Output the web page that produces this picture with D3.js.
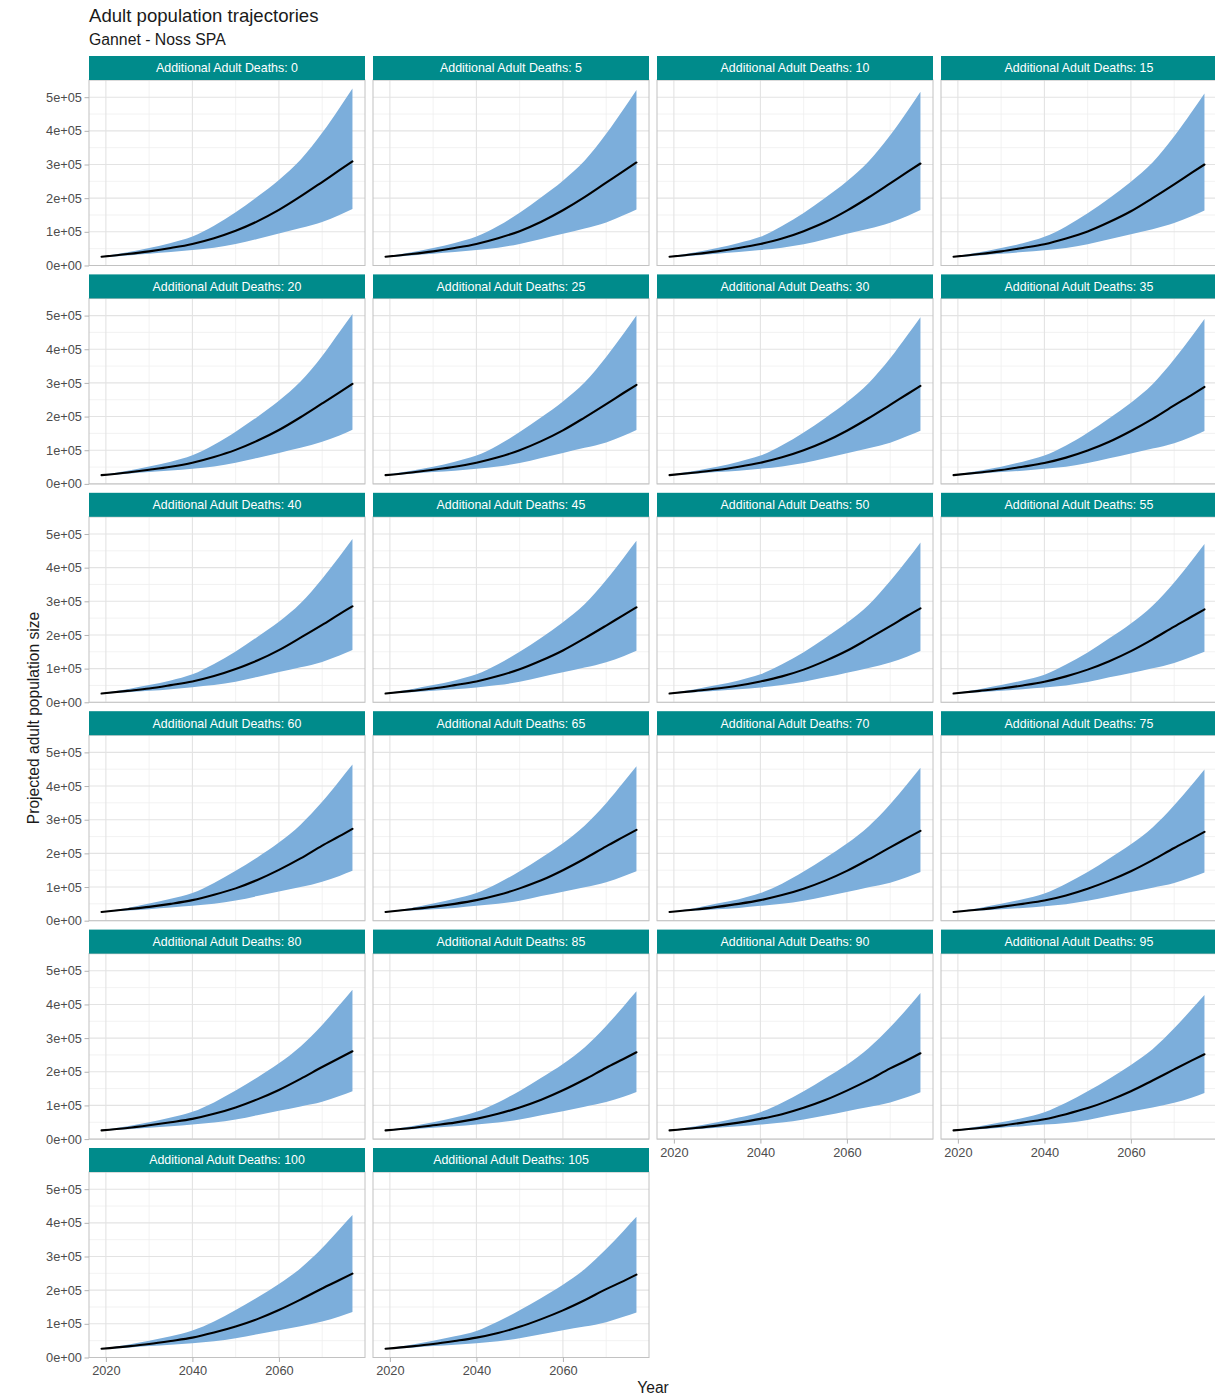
<!DOCTYPE html>
<html>
<head>
<meta charset="utf-8">
<script src="https://cdn.jsdelivr.net/npm/d3@7"></script>
<style>
  body { margin: 0; background: #ffffff; }
  svg text { font-family: "Liberation Sans", Arial, sans-serif; }
</style>
</head>
<body>
<svg id="chart" width="1215" height="1396"></svg>
<script>
// Additional adult deaths per year, one facet each
const deaths = [0, 5, 10, 15, 20, 25, 30, 35, 40, 45, 50, 55, 60, 65, 70, 75, 80, 85, 90, 95, 100, 105];

// Projection years sampled for the trajectories
const years = [2019, 2025, 2030, 2035, 2040, 2045, 2050, 2055, 2060, 2065, 2070, 2074, 2077];

// Median projected adult population (thousands), one row per facet
const medianK = [
  [26, 34, 42, 52, 64, 81, 103, 131, 165, 205, 248, 283, 309],
  [26, 34, 42, 52, 64, 81, 102, 130, 164, 203, 246, 280, 306],
  [26, 34, 42, 52, 64, 80, 102, 129, 163, 202, 244, 278, 303],
  [26, 34, 42, 52, 63, 80, 101, 129, 161, 200, 241, 275, 300],
  [26, 34, 42, 51, 63, 80, 101, 128, 160, 198, 239, 272, 297],
  [26, 34, 42, 51, 63, 79, 100, 127, 159, 197, 237, 270, 294],
  [26, 34, 41, 51, 63, 79, 100, 126, 158, 195, 235, 267, 291],
  [26, 34, 41, 51, 62, 78, 99, 125, 157, 193, 233, 264, 288],
  [26, 34, 41, 51, 62, 78, 99, 124, 155, 192, 230, 262, 285],
  [26, 34, 41, 51, 62, 78, 98, 124, 154, 190, 228, 259, 282],
  [26, 34, 41, 50, 62, 77, 97, 123, 153, 189, 226, 257, 279],
  [26, 34, 41, 50, 61, 77, 97, 122, 152, 187, 225, 254, 276],
  [26, 34, 41, 50, 61, 77, 96, 121, 151, 185, 223, 251, 273],
  [26, 34, 41, 50, 61, 76, 96, 120, 150, 184, 221, 249, 270],
  [26, 33, 41, 50, 61, 76, 95, 119, 148, 182, 218, 246, 267],
  [26, 33, 41, 50, 60, 75, 95, 119, 147, 180, 216, 243, 264],
  [26, 33, 41, 50, 60, 75, 94, 118, 146, 179, 214, 241, 261],
  [26, 33, 41, 49, 60, 75, 94, 117, 145, 177, 212, 238, 258],
  [26, 33, 40, 49, 60, 74, 93, 116, 144, 175, 210, 235, 255],
  [26, 33, 40, 49, 59, 74, 92, 115, 142, 174, 207, 233, 252],
  [26, 33, 40, 49, 59, 74, 92, 114, 141, 172, 205, 230, 249],
  [26, 33, 40, 49, 59, 73, 91, 114, 140, 170, 203, 227, 246]
];

// Lower bound of the projection interval (thousands)
const lowerK = [
  [25, 30, 35, 40, 46, 53, 64, 79, 95, 111, 129, 150, 168],
  [25, 30, 35, 40, 46, 53, 64, 79, 94, 110, 128, 149, 166],
  [25, 30, 35, 40, 46, 53, 63, 78, 94, 109, 127, 147, 165],
  [25, 30, 35, 40, 45, 52, 63, 78, 93, 108, 126, 146, 163],
  [25, 30, 35, 40, 45, 52, 63, 77, 92, 107, 125, 144, 161],
  [25, 30, 35, 39, 45, 52, 62, 77, 92, 107, 123, 143, 160],
  [25, 30, 35, 39, 45, 52, 62, 76, 91, 106, 122, 142, 158],
  [25, 30, 35, 39, 45, 51, 62, 76, 90, 105, 121, 140, 157],
  [25, 30, 34, 39, 45, 51, 61, 75, 90, 104, 120, 139, 155],
  [25, 30, 34, 39, 44, 51, 61, 75, 89, 103, 119, 137, 153],
  [25, 30, 34, 39, 44, 51, 61, 74, 88, 102, 118, 136, 152],
  [25, 30, 34, 39, 44, 50, 60, 74, 87, 101, 117, 135, 150],
  [25, 30, 34, 39, 44, 50, 60, 73, 87, 100, 116, 133, 148],
  [25, 30, 34, 38, 44, 50, 59, 73, 86, 99, 114, 132, 147],
  [25, 30, 34, 38, 44, 50, 59, 72, 85, 99, 113, 130, 145],
  [25, 30, 34, 38, 43, 49, 59, 72, 85, 98, 112, 129, 143],
  [25, 29, 34, 38, 43, 49, 58, 71, 84, 97, 111, 128, 142],
  [25, 29, 34, 38, 43, 49, 58, 71, 83, 96, 110, 126, 140],
  [25, 29, 34, 38, 43, 49, 58, 70, 83, 95, 109, 125, 139],
  [25, 29, 34, 38, 43, 48, 57, 70, 82, 94, 108, 123, 137],
  [25, 29, 34, 38, 42, 48, 57, 69, 81, 93, 107, 122, 135],
  [25, 29, 34, 38, 42, 48, 57, 69, 81, 92, 105, 121, 134]
];

// Upper bound of the projection interval (thousands)
const upperK = [
  [27, 39, 52, 67, 86, 118, 158, 204, 254, 314, 394, 468, 526],
  [27, 39, 52, 67, 86, 117, 157, 203, 252, 311, 391, 464, 521],
  [27, 39, 52, 67, 85, 117, 156, 201, 250, 309, 387, 459, 516],
  [27, 39, 52, 66, 85, 116, 155, 200, 249, 306, 384, 455, 511],
  [27, 39, 52, 66, 85, 116, 155, 199, 247, 304, 380, 451, 505],
  [27, 39, 51, 66, 84, 115, 154, 198, 245, 301, 377, 446, 500],
  [27, 39, 51, 66, 84, 115, 153, 196, 243, 299, 373, 442, 495],
  [27, 39, 51, 66, 84, 114, 152, 195, 241, 296, 370, 437, 490],
  [27, 39, 51, 65, 83, 114, 151, 194, 239, 294, 367, 433, 485],
  [27, 39, 51, 65, 83, 113, 150, 192, 238, 291, 363, 429, 480],
  [27, 39, 51, 65, 83, 113, 149, 191, 236, 289, 360, 424, 475],
  [27, 39, 51, 65, 82, 112, 148, 190, 234, 287, 356, 420, 470],
  [27, 38, 51, 65, 82, 112, 148, 188, 232, 285, 353, 416, 464],
  [27, 38, 51, 65, 82, 111, 147, 187, 230, 282, 349, 411, 459],
  [27, 38, 51, 64, 82, 110, 146, 186, 229, 280, 346, 407, 454],
  [27, 38, 50, 64, 81, 110, 145, 185, 227, 277, 343, 402, 449],
  [27, 38, 50, 64, 81, 109, 144, 183, 225, 275, 339, 398, 444],
  [27, 38, 50, 64, 81, 109, 143, 182, 223, 272, 336, 394, 439],
  [27, 38, 50, 64, 80, 108, 142, 181, 221, 270, 332, 389, 434],
  [27, 38, 50, 63, 80, 108, 142, 179, 220, 267, 329, 385, 428],
  [27, 38, 50, 63, 80, 107, 141, 178, 218, 265, 325, 381, 423],
  [27, 38, 50, 63, 79, 107, 140, 177, 216, 262, 322, 376, 418]
];

// Axis breaks and labels
const xTicks = [2020, 2040, 2060];
const xMinorTicks = [2030, 2050, 2070];
const yTicks = [0, 100000, 200000, 300000, 400000, 500000];
const yTickLabels = ["0e+00", "1e+05", "2e+05", "3e+05", "4e+05", "5e+05"];
const yMinorTicks = [50000, 150000, 250000, 350000, 450000, 550000];

// ---- layout ----
const nCol = 4;
const panelW = 276, panelH = 185.5, stripH = 24;
const colStep = 284, rowStep = 218.4;
const left0 = 89, top0 = 56;

const svg = d3.select("#chart");

// Shared scales (fixed across facets), padded 5% either side of the data range
const allVals = lowerK.flat().concat(upperK.flat()).map(v => v * 1000);
const [yLo, yHi] = d3.extent(allVals);
const yPad = (yHi - yLo) * 0.05;
const y = d3.scaleLinear().domain([yLo - yPad, yHi + yPad]).range([panelH, 0]);

const xPad = (years[years.length - 1] - years[0]) * 0.05;
const x = d3.scaleLinear()
  .domain([years[0] - xPad, years[years.length - 1] + xPad])
  .range([0, panelW]);

const band = d3.area()
  .curve(d3.curveMonotoneX)
  .x(d => x(d.year))
  .y0(d => y(d.lo))
  .y1(d => y(d.hi));

const medLine = d3.line()
  .curve(d3.curveMonotoneX)
  .x(d => x(d.year))
  .y(d => y(d.med));

// Titles
svg.append("text")
  .attr("x", 89).attr("y", 22)
  .attr("font-size", 18.6).attr("fill", "#1a1a1a")
  .text("Adult population trajectories");
svg.append("text")
  .attr("x", 89).attr("y", 45)
  .attr("font-size", 15.8).attr("fill", "#1a1a1a")
  .text("Gannet - Noss SPA");

deaths.forEach((dth, i) => {
  const row = Math.floor(i / nCol), col = i % nCol;
  const gx = left0 + col * colStep;
  const gy = top0 + row * rowStep + stripH;
  const g = svg.append("g").attr("transform", `translate(${gx},${gy})`);

  const rows = years.map((yr, j) => ({
    year: yr,
    med: medianK[i][j] * 1000,
    lo: lowerK[i][j] * 1000,
    hi: upperK[i][j] * 1000
  }));

  g.append("rect").attr("width", panelW).attr("height", panelH).attr("fill", "#ffffff");

  // grid
  const grid = g.append("g");
  grid.selectAll(".xmin").data(xMinorTicks).join("line")
    .attr("x1", d => x(d)).attr("x2", d => x(d)).attr("y1", 0).attr("y2", panelH)
    .attr("stroke", "#efefef").attr("stroke-width", 0.8);
  grid.selectAll(".ymin").data(yMinorTicks).join("line")
    .attr("y1", d => y(d)).attr("y2", d => y(d)).attr("x1", 0).attr("x2", panelW)
    .attr("stroke", "#efefef").attr("stroke-width", 0.8);
  grid.selectAll(".xmaj").data(xTicks).join("line")
    .attr("x1", d => x(d)).attr("x2", d => x(d)).attr("y1", 0).attr("y2", panelH)
    .attr("stroke", "#e3e3e3").attr("stroke-width", 1.1);
  grid.selectAll(".ymaj").data(yTicks).join("line")
    .attr("y1", d => y(d)).attr("y2", d => y(d)).attr("x1", 0).attr("x2", panelW)
    .attr("stroke", "#e3e3e3").attr("stroke-width", 1.1);

  // interval ribbon and median trajectory
  g.append("path").datum(rows).attr("d", band).attr("fill", "#7caedb");
  g.append("path").datum(rows).attr("d", medLine)
    .attr("fill", "none").attr("stroke", "#000000").attr("stroke-width", 2.1)
    .attr("stroke-linejoin", "round").attr("stroke-linecap", "round");

  // panel border
  g.append("rect").attr("width", panelW).attr("height", panelH)
    .attr("fill", "none").attr("stroke", "#c2c2c2").attr("stroke-width", 1);

  // strip
  g.append("rect").attr("x", 0).attr("y", -stripH).attr("width", panelW).attr("height", stripH)
    .attr("fill", "#008b8b");
  g.append("text")
    .attr("x", panelW / 2).attr("y", -stripH / 2).attr("dy", "0.36em")
    .attr("text-anchor", "middle").attr("font-size", 12.4).attr("fill", "#ffffff")
    .text(`Additional Adult Deaths: ${dth}`);

  // y axis on the first column
  if (col === 0) {
    const ay = g.append("g").call(
      d3.axisLeft(y).tickValues(yTicks)
        .tickFormat((d, k) => yTickLabels[k])
        .tickSize(4.5).tickPadding(2.5)
    );
    ay.select(".domain").remove();
    ay.selectAll(".tick line").attr("stroke", "#b3b3b3");
    ay.selectAll(".tick text").attr("fill", "#4d4d4d").attr("font-size", 12.8)
      .attr("font-family", "Liberation Sans, Arial, sans-serif");
  }

  // x axis under the lowest facet of each column
  if (i + nCol >= deaths.length) {
    const ax = g.append("g").attr("transform", `translate(0,${panelH})`).call(
      d3.axisBottom(x).tickValues(xTicks).tickFormat(d3.format("d"))
        .tickSize(4.5).tickPadding(4)
    );
    ax.select(".domain").remove();
    ax.selectAll(".tick line").attr("stroke", "#b3b3b3");
    ax.selectAll(".tick text").attr("fill", "#4d4d4d").attr("font-size", 12.8)
      .attr("font-family", "Liberation Sans, Arial, sans-serif");
  }
});

// Axis titles
svg.append("text")
  .attr("transform", "translate(39,718) rotate(-90)")
  .attr("text-anchor", "middle").attr("font-size", 15.6).attr("fill", "#1a1a1a")
  .text("Projected adult population size");
svg.append("text")
  .attr("x", 653).attr("y", 1393)
  .attr("text-anchor", "middle").attr("font-size", 15.6).attr("fill", "#1a1a1a")
  .text("Year");
</script>
</body>
</html>
